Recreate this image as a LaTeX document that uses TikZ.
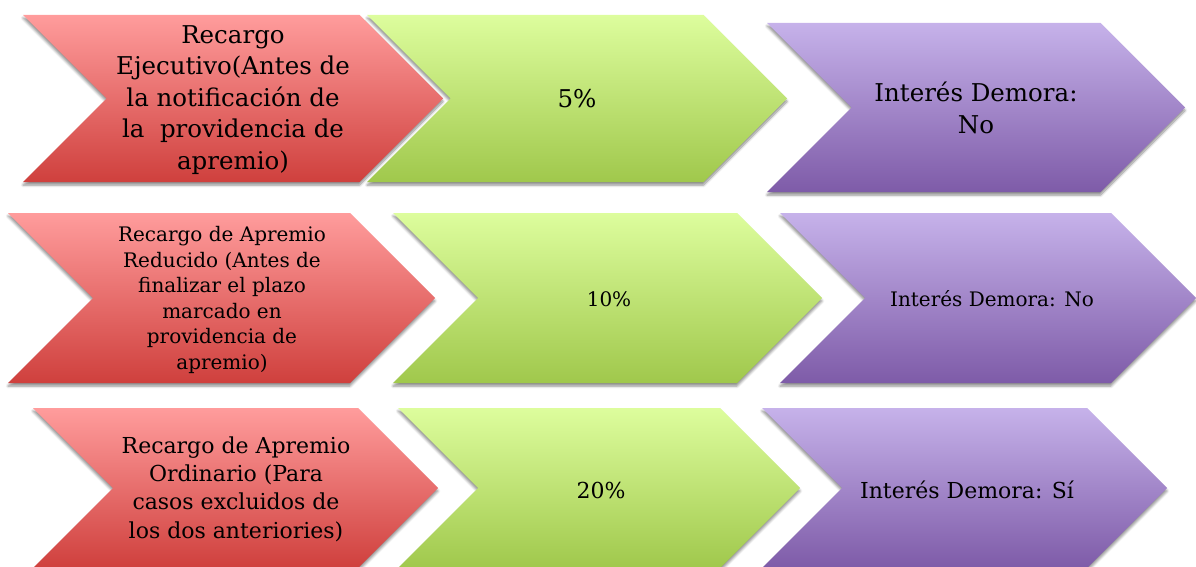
\documentclass[tikz,border=0pt]{standalone}
\usepackage{fontspec}
\setmainfont{DejaVu Serif}
\usetikzlibrary{shadows.blur}

\definecolor{redtop}{HTML}{FF9C9C}
\definecolor{redbot}{HTML}{CF403D}
\definecolor{greentop}{HTML}{DDFD9D}
\definecolor{greenbot}{HTML}{A0C84C}
\definecolor{purpletop}{HTML}{C6B2EA}
\definecolor{purplebot}{HTML}{7E5BA8}

% chevron: style, left x, tip x, top y, bottom y (45 degree sides)
\newcommand{\chev}[5]{%
  \path[#1] (#2,#4) -- ({#3-(#5-#4)/2},#4) -- (#3,{(#4+#5)/2})
    -- ({#3-(#5-#4)/2},#5) -- (#2,#5) -- ({#2+(#5-#4)/2},{(#4+#5)/2}) -- cycle;}

\tikzset{
  chevbox/.style={blur shadow={shadow xshift=0pt, shadow yshift=-3pt,
      shadow blur radius=2.5pt, shadow blur steps=6, shadow opacity=45}},
  redbox/.style={chevbox, top color=redtop, bottom color=redbot},
  greenbox/.style={chevbox, top color=greentop, bottom color=greenbot},
  purplebox/.style={chevbox, top color=purpletop, bottom color=purplebot},
  rowone/.style={align=center, font=\fontsize{24.5}{31.5}\selectfont},
  rowtwo/.style={align=center, font=\fontsize{20}{25.5}\selectfont},
  rowthree/.style={align=center, font=\fontsize{22}{28.3}\selectfont},
}

\begin{document}
\begin{tikzpicture}[x=1pt, y=-1pt]
\useasboundingbox (0,0) rectangle (1196,567);

% Row 1 (recargo ejecutivo)
\chev{redbox}{23}{443}{15}{182}
\chev{greenbox}{367}{787}{15}{182}
\chev{purplebox}{767}{1185}{23}{192}
\node[rowone] (r1) at (233,100) {Recargo\\Ejecutivo(Antes de\\la notificación de\\la\ \ providencia de\\apremio)};
\node[rowone] (g1) at (577,99) {5\%};
\node[rowone] (p1) at (976,108) {Interés Demora:\\No};

% Row 2 (recargo reducido)
\chev{redbox}{8}{435}{213}{383}
\chev{greenbox}{393}{822}{213}{383}
\chev{purplebox}{780}{1196}{213}{383}
\node[rowtwo] (r2) at (222,300) {Recargo de Apremio\\Reducido (Antes de\\finalizar el plazo\\marcado en\\providencia de\\apremio)};
\node[rowtwo] (g2) at (609,299) {10\%};
\node[rowtwo] (p2) at (992,299) {Interés Demora: No};

% Row 3 (recargo ordinario)
\chev{redbox}{33}{438}{408}{568}
\chev{greenbox}{398}{800}{408}{568}
\chev{purplebox}{762}{1167}{408}{568}
\node[rowthree] (r3) at (236,489) {Recargo de Apremio\\Ordinario (Para\\casos excluidos de\\los dos anteriories)};
\node[rowthree] (g3) at (601,490) {20\%};
\node[rowthree] (p3) at (967,490) {Interés Demora: Sí};

\end{tikzpicture}
\end{document}
